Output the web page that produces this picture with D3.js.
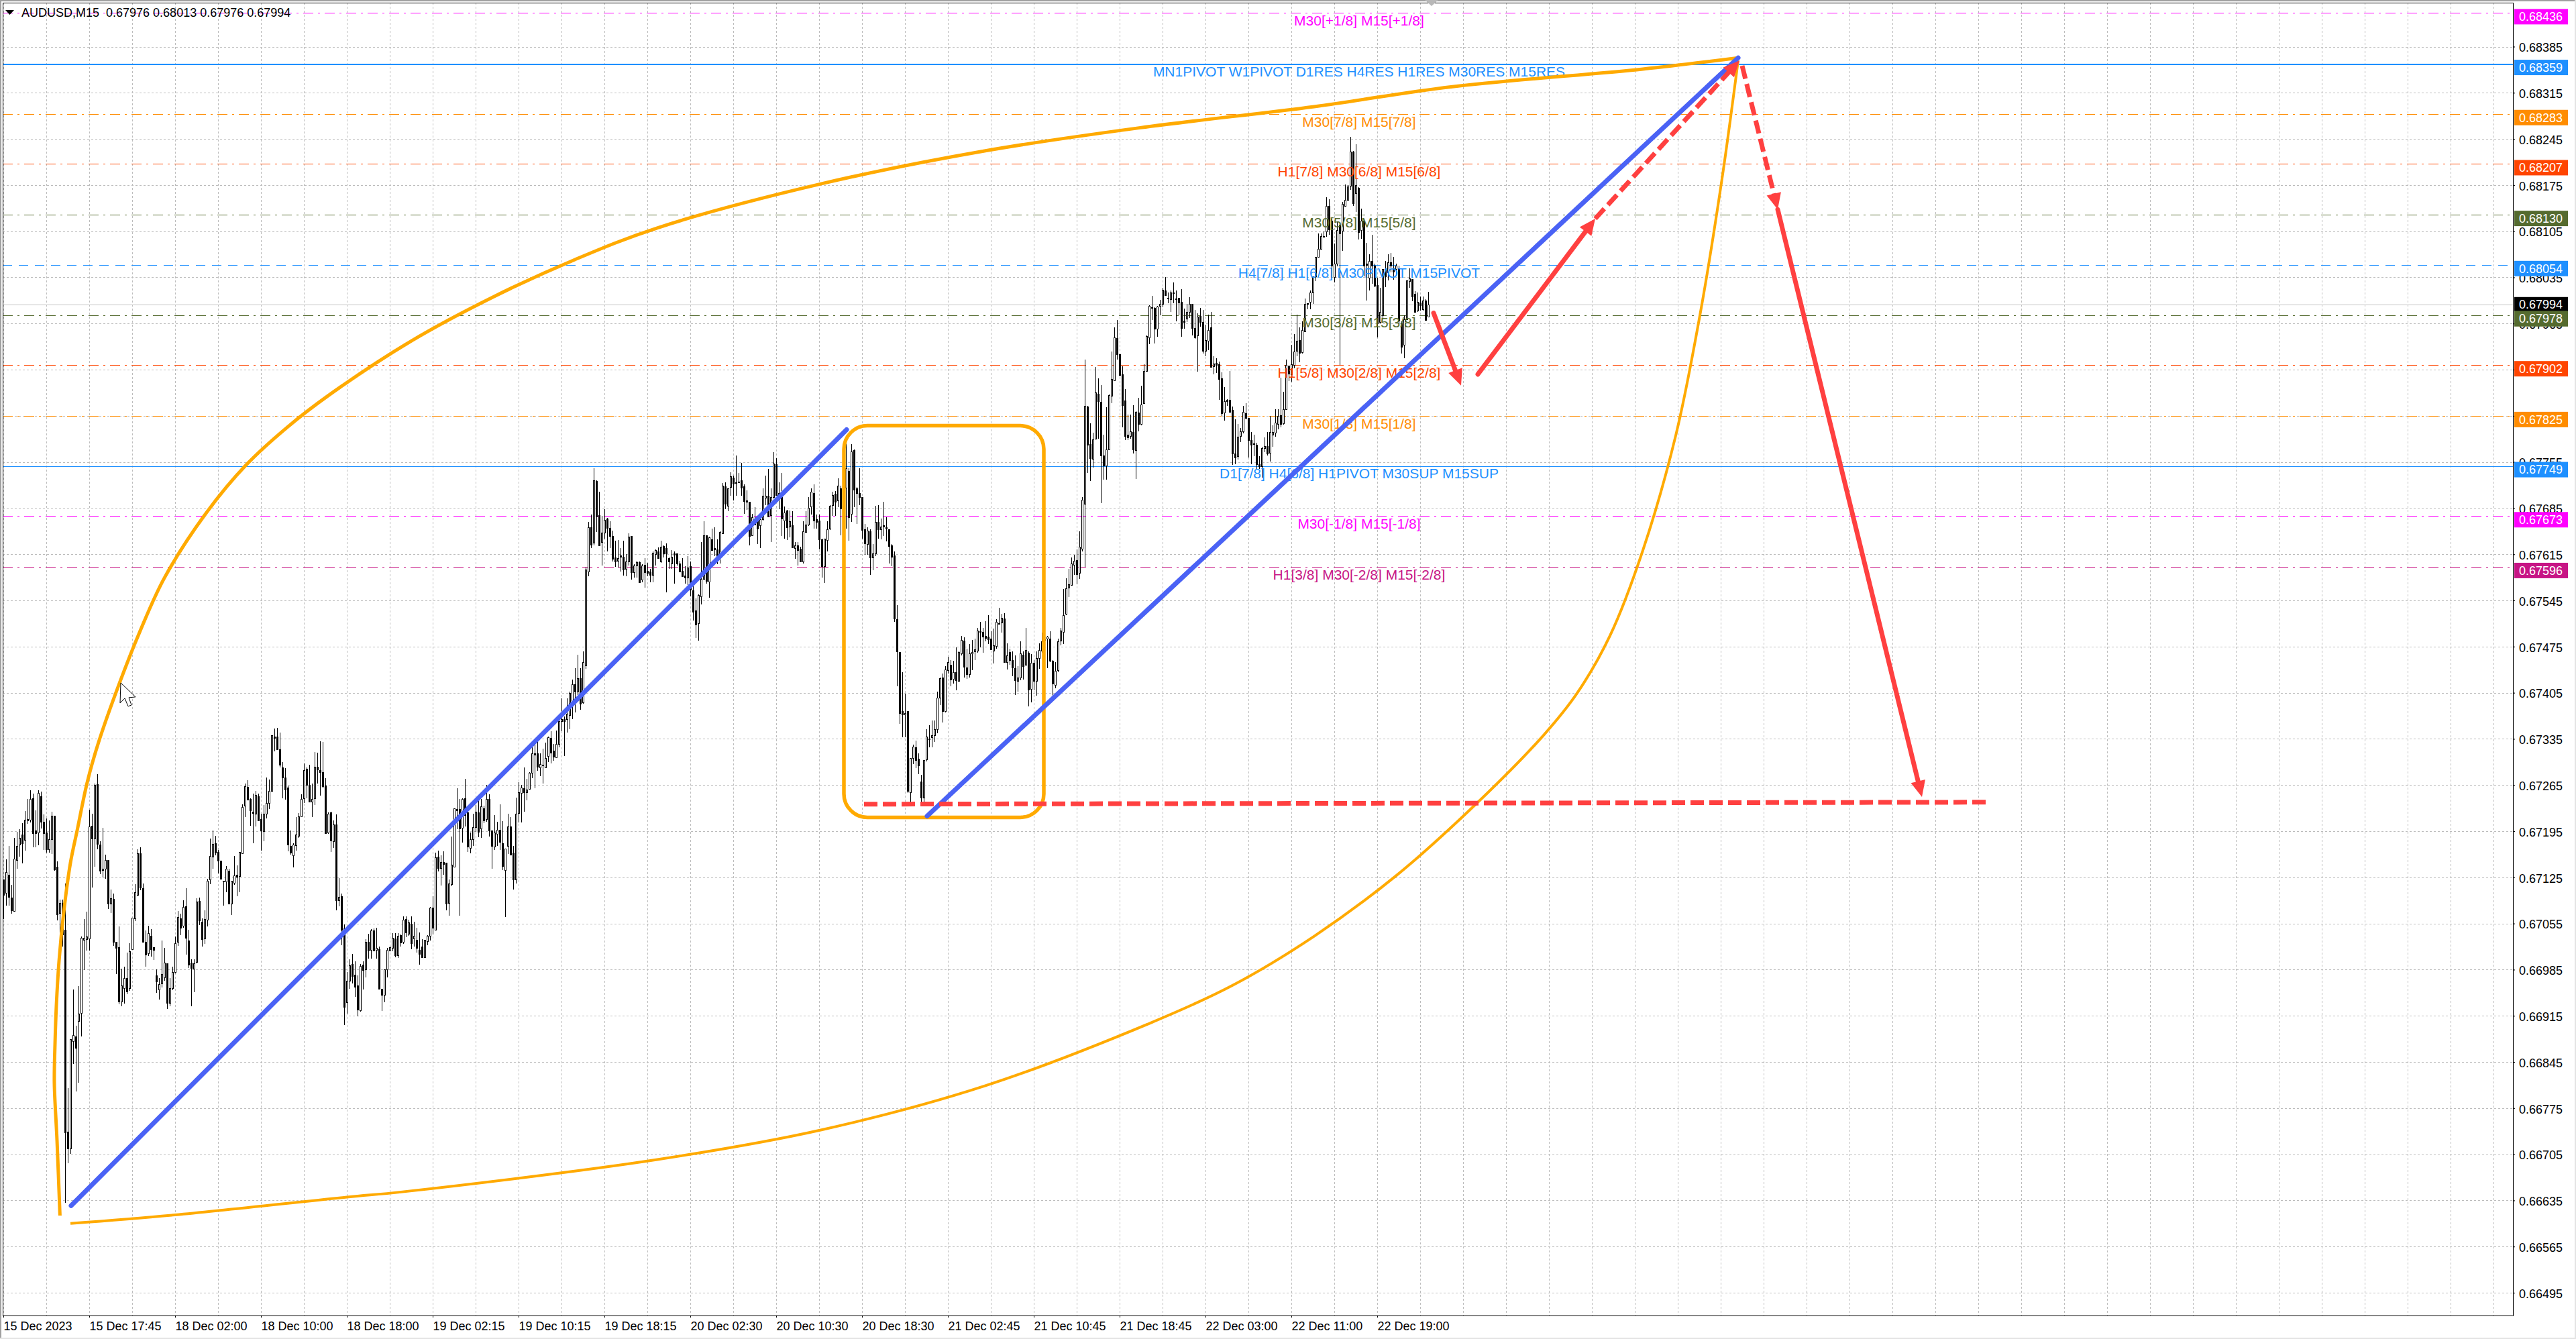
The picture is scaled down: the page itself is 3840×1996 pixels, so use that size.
<!DOCTYPE html>
<html>
<head>
<meta charset="utf-8">
<style>
	html, body {margin: 0; padding: 0; background: #fff;}
	svg {display: block;}
	text {font-family: "Liberation Sans", Arial, sans-serif; white-space: pre;}
</style>
<script src="https://cdn.jsdelivr.net/npm/d3@7"></script>
</head>
<body>
<svg id="chart" width="3840" height="1996"></svg>
<script>
// all prices below are in points, price * 100000
const opens = [
67122,67101,67129,67094,67074,67152,67175,67190,67181,67211,
67212,67245,67196,67193,67248,67209,67193,67168,67182,67218,
67141,67071,67086,67045,66739,66714,66877,66884,66907,66919,
67030,67031,67032,67203,67184,67266,67175,67136,67138,67151,
67085,67092,67027,67019,66937,66957,66972,66957,67016,67062,
67098,67161,67109,67027,67009,67036,67019,66976,66955,66964,
66974,66995,66935,66957,66981,67027,67063,67052,67081,67029,
66996,66987,66996,67089,67058,67032,67061,67121,67157,67177,
67163,67150,67120,67119,67135,67085,67117,67129,67126,67162,
67233,67262,67244,67225,67222,67248,67213,67196,67222,67238,
67257,67338,67338,67319,67292,67276,67261,67173,67159,67174,
67188,67218,67245,67290,67265,67240,67245,67293,67288,67285,
67264,67193,67224,67180,67205,67090,67096,67048,66935,66969,
66994,66977,66961,66924,66993,66985,67027,67014,67044,67015,
67016,66956,66946,66985,67014,67018,67032,67007,67037,67027,
67062,67040,67055,67032,67030,67015,67020,67004,67028,67036,
67079,67045,67156,67139,67148,67147,67086,67115,67141,67229,
67229,67200,67245,67224,67170,67183,67202,67224,67199,67230,
67213,67244,67196,67172,67191,67197,67177,67136,67172,67202,
67162,67121,67222,67253,67260,67254,67260,67284,67313,67313,
67292,67296,67292,67309,67336,67317,67307,67327,67362,67365,
67365,67371,67385,67418,67407,67427,67390,67446,67589,67656,
67632,67726,67674,67634,67648,67669,67655,67643,67610,67605,
67613,67611,67593,67604,67643,67588,67598,67603,67577,67599,
67590,67589,67583,67615,67619,67604,67627,67624,67609,67601,
67616,67616,67601,67590,67583,67580,67597,67560,67530,67510,
67552,67578,67644,67574,67638,67624,67622,67610,67647,67718,
67689,67717,67731,67724,67725,67727,67718,67697,67695,67644,
67668,67666,67659,67668,67701,67704,67675,67702,67752,67708,
67702,67666,67681,67657,67659,67625,67629,67623,67604,67649,
67660,67688,67708,67668,67666,67638,67597,67637,67654,67690,
67707,67697,67715,67684,67715,67741,67676,67773,67715,67708,
67702,67653,67631,67650,67610,67616,67664,67653,67659,67656,
67653,67628,67613,67517,67467,67377,67372,67377,67254,67306,
67322,67305,67270,67246,67303,67335,67338,67341,67350,67398,
67428,67377,67439,67447,67426,67436,67423,67465,67484,67443,
67433,67465,67468,67468,67498,67497,67491,67490,67487,67469,
67475,67510,67512,67518,67452,67467,67455,67442,67423,67428,
67463,67448,67466,67410,67450,67423,67458,67469,67486,67487,
67487,67453,67417,67439,67484,67498,67524,67564,67568,67599,
67606,67586,67624,67691,67839,67782,67760,67790,67858,67846,
67765,67750,67774,67856,67879,67943,67918,67888,67848,67796,
67794,67800,67773,67830,67813,67844,67893,67944,67990,67989,
67957,67992,67995,68015,68004,68002,68012,68003,68004,67998,
67969,67973,67983,67995,67958,67947,67976,67967,67924,67939,
67959,67900,67905,67903,67882,67830,67849,67849,67834,67768,
67763,67794,67801,67829,67822,67788,67783,67781,67752,67749,
67776,67779,67768,67796,67800,67813,67826,67814,67835,67900,
67888,67903,67924,67940,67921,67953,67996,67998,68012,68036,
68066,68079,68098,68104,68143,68121,68036,68056,68115,68105,
68144,68153,68174,68226,68163,68171,68107,68121,68056,68035,
68060,68053,68023,67968,67978,68048,68043,68058,68049,68048,
68049,67966,67932,67971,68029,68032,68010,67985,67997,67987,68000,67976];
const highs = [
67122,67152,67173,67114,67185,67194,67198,67207,67226,67244,
67257,67252,67227,67257,67255,67220,67214,67211,67225,67218,
67149,67091,67091,67116,66805,66880,66955,66900,66960,67035,
67062,67073,67228,67221,67267,67282,67180,67200,67159,67151,
67107,67100,67027,67051,66986,66990,67011,67025,67064,67115,
67168,67171,67116,67044,67052,67046,67019,66985,66972,67029,
67018,66995,66972,66989,67035,67074,67070,67090,67109,67045,
67001,67001,67093,67094,67063,67075,67123,67184,67196,67188,
67167,67150,67120,67142,67138,67120,67157,67143,67163,67236,
67267,67272,67245,67252,67256,67252,67221,67235,67276,67273,
67341,67351,67352,67345,67300,67291,67264,67196,67177,67216,
67223,67251,67298,67292,67296,67267,67315,67314,67331,67330,
67275,67224,67225,67211,67220,67124,67100,67054,66981,67001,
67009,66998,66976,66994,66998,67031,67039,67046,67048,67049,
67020,66956,66985,67018,67020,67040,67040,67040,67038,67066,
67066,67061,67066,67058,67049,67041,67031,67030,67037,67080,
67096,67162,67166,67158,67165,67147,67122,67187,67230,67260,
67244,67245,67274,67233,67193,67222,67235,67244,67244,67234,
67265,67251,67196,67219,67209,67236,67210,67169,67222,67216,
67173,67246,67269,67265,67292,67274,67285,67322,67329,67340,
67313,67320,67329,67338,67347,67327,67348,67371,67396,67369,
67397,67407,67425,67442,67463,67442,67468,67596,67664,67675,
67745,67727,67710,67673,67683,67670,67665,67651,67636,67637,
67624,67636,67615,67647,67643,67600,67605,67604,67600,67609,
67602,67593,67619,67622,67625,67636,67629,67632,67610,67621,
67619,67616,67605,67609,67597,67612,67604,67568,67548,67554,
67634,67665,67644,67642,67654,67656,67638,67650,67723,67724,
67715,67739,67734,67765,67738,67754,67721,67712,67695,67676,
67686,67668,67670,67715,67734,67744,67715,67770,67761,67724,
67738,67688,67682,67681,67680,67634,67634,67626,67665,67680,
67702,67715,67721,67675,67675,67639,67639,67665,67690,67710,
67711,67730,67719,67703,67783,67745,67782,67774,67717,67745,
67702,67661,67656,67653,67631,67689,67690,67669,67695,67671,
67653,67631,67619,67538,67467,67436,67404,67377,67306,67326,
67332,67313,67281,67303,67350,67356,67363,67363,67407,67428,
67434,67445,67460,67455,67453,67474,67468,67491,67489,67472,
67479,67485,67487,67503,67512,67503,67514,67523,67498,67502,
67517,67534,67525,67526,67480,67472,67468,67462,67445,67483,
67468,67503,67468,67464,67455,67468,67480,67496,67500,67491,
67498,67455,67451,67487,67503,67562,67579,67593,67610,67614,
67622,67650,67702,67910,67840,67814,67799,67899,67882,67872,
67796,67838,67857,67923,67959,67970,67918,67900,67866,67827,
67827,67841,67832,67852,67871,67903,67947,67993,68007,67990,
67992,68001,68019,68035,68012,68015,68027,68015,68004,68017,
67988,67995,68005,67995,67986,67981,67989,67986,67963,67979,
67983,67915,67912,67907,67891,67869,67850,67893,67839,67820,
67813,67807,67840,67844,67822,67800,67796,67784,67764,67778,
67792,67800,67825,67811,67835,67835,67883,67862,67910,67902,
67933,67949,67979,67959,67968,68003,67996,68015,68036,68066,
68102,68102,68105,68157,68154,68124,68086,68120,68117,68149,
68176,68175,68248,68227,68237,68172,68139,68124,68087,68070,
68100,68056,68034,68019,68048,68060,68070,68072,68066,68056,
68053,67968,67978,68030,68049,68032,68014,68012,68006,68006,68002,68013];
const lows = [
67062,67082,67082,67070,67074,67138,67156,67146,67166,67206,
67208,67171,67171,67174,67199,67167,67162,67162,67160,67135,
67060,67041,67020,66631,66691,66706,66842,66800,66813,66884,
66984,67014,67014,67110,67141,67168,67130,67125,67123,67077,
67071,67021,66978,66933,66929,66934,66948,66953,67015,67059,
67096,67106,67027,66990,67006,67005,67000,66950,66940,66958,
66968,66925,66929,66954,66979,67021,67037,67049,67008,66987,
66929,66951,66995,67053,67020,67024,67051,67115,67138,67158,
67131,67122,67082,67102,67084,67068,67114,67096,67102,67162,
67216,67243,67203,67177,67202,67211,67166,67180,67214,67229,
67255,67316,67319,67292,67245,67243,67165,67159,67140,67166,
67185,67218,67238,67245,67239,67216,67235,67267,67249,67260,
67192,67191,67163,67170,67075,67081,67022,66901,66918,66956,
66964,66944,66914,66921,66955,66973,67002,67002,67013,67002,
66956,66922,66936,66973,67013,67013,67004,67003,67020,67024,
67034,67036,67016,67020,67011,66993,67004,67004,67022,67029,
67038,67045,67134,67113,67129,67075,67067,67112,67140,67198,
67067,67178,67202,67164,67161,67173,67194,67186,67185,67207,
67209,67187,67138,67167,67173,67167,67136,67065,67160,67159,
67107,67116,67208,67208,67225,67242,67258,67275,67260,67287,
67278,67267,67291,67300,67298,67302,67307,67322,67347,67309,
67345,67350,67365,67375,67402,67379,67388,67441,67582,67624,
67629,67649,67627,67598,67639,67619,67624,67604,67596,67595,
67589,67583,67582,67598,67577,67580,67580,67572,67573,67564,
67582,67573,67573,67598,67609,67602,67610,67557,67593,67593,
67571,67598,67588,67582,67570,67568,67551,67515,67488,67484,
67539,67578,67571,67549,67621,67612,67600,67601,67646,67683,
67680,67704,67697,67704,67724,67704,67676,67682,67629,67643,
67660,67631,67624,67666,67690,67672,67634,67700,67705,67683,
67643,67639,67637,67641,67624,67608,67598,67604,67601,67648,
67658,67675,67654,67654,67622,67580,67572,67619,67652,67673,
67673,67686,67644,67664,67654,67636,67664,67686,67661,67690,
67639,67614,67614,67584,67591,67612,67639,67638,67643,67635,
67601,67597,67512,67415,67358,67337,67337,67253,67238,67297,
67291,67282,67240,67238,67301,67322,67322,67330,67344,67386,
67360,67375,67434,67415,67419,67409,67422,67462,67428,67426,
67428,67439,67455,67466,67474,67466,67483,67479,67470,67449,
67472,67508,67496,67451,67440,67447,67430,67402,67407,67424,
67425,67447,67384,67390,67409,67401,67441,67466,67483,67442,
67451,67401,67412,67436,67477,67479,67523,67550,67567,67584,
67569,67578,67619,67596,67738,67726,67747,67789,67790,67693,
67728,67728,67773,67844,67878,67910,67885,67808,67788,67788,
67790,67768,67729,67801,67811,67844,67892,67934,67970,67935,
67945,67978,67990,68007,67996,67983,67996,67968,67978,67945,
67957,67967,67973,67947,67942,67892,67960,67920,67915,67925,
67899,67888,67890,67849,67825,67818,67840,67830,67751,67752,
67759,67785,67798,67820,67762,67752,67764,67744,67744,67731,
67770,67765,67756,67778,67793,67805,67808,67812,67835,67878,
67877,67897,67915,67906,67920,67952,67987,67987,67995,68029,
68065,68078,68096,68097,68100,68034,68027,68052,67902,68075,
68143,68151,68168,68143,68134,68092,68093,68036,68000,68015,
68025,68020,67944,67965,67971,68020,68030,68043,68031,68039,
67965,67919,67912,67970,68019,67999,67982,67983,67985,67985,67971,67976];
const closes = [
67099,67133,67095,67075,67153,67173,67185,67177,67212,67213,
67244,67192,67192,67253,67209,67192,67168,67183,67218,67137,
67069,67086,67038,66738,66714,66880,66886,66867,66918,67033,
67033,67035,67202,67184,67265,67175,67135,67138,67151,67085,
67093,67027,67018,66937,66961,66972,66952,67013,67064,67102,
67161,67109,67028,67008,67040,67016,67015,66967,66963,66978,
66996,66935,66957,66981,67025,67065,67049,67080,67033,66992,
66988,66995,67088,67059,67032,67062,67120,67157,67176,67163,
67150,67123,67120,67138,67085,67120,67128,67126,67163,67232,
67263,67243,67227,67223,67250,67211,67196,67222,67238,67256,
67341,67336,67319,67296,67277,67258,67175,67163,67175,67190,
67217,67244,67288,67266,67240,67244,67293,67289,67285,67264,
67192,67221,67181,67205,67090,67095,67045,66929,66968,66992,
66976,66959,66924,66991,66985,67027,67014,67044,67013,67018,
66956,66947,66985,67015,67019,67033,67007,67036,67026,67061,
67042,67057,67026,67036,67018,67009,67004,67030,67036,67079,
67048,67155,67139,67148,67145,67085,67116,67144,67230,67227,
67199,67244,67220,67172,67183,67201,67225,67194,67233,67212,
67244,67196,67173,67193,67197,67179,67142,67169,67202,67159,
67121,67221,67254,67261,67254,67258,67284,67313,67311,67293,
67297,67295,67306,67337,67314,67308,67327,67362,67365,67362,
67373,67405,67418,67407,67427,67388,67451,67592,67656,67630,
67727,67672,67628,67648,67667,67655,67643,67608,67604,67609,
67611,67592,67604,67642,67588,67598,67603,67572,67598,67588,
67587,67584,67617,67621,67609,67626,67616,67616,67604,67611,
67614,67601,67589,67582,67580,67595,67561,67527,67509,67553,
67578,67644,67575,67641,67622,67622,67612,67649,67719,67692,
67715,67733,67722,67724,67725,67716,67696,67695,67643,67671,
67660,67654,67668,67704,67704,67672,67702,67753,67705,67699,
67669,67678,67656,67665,67625,67629,67622,67604,67650,67660,
67685,67710,67666,67664,67638,67597,67639,67653,67689,67705,
67695,67719,67684,67700,67745,67671,67771,67713,67708,67702,
67652,67632,67651,67610,67616,67664,67653,67657,67657,67654,
67628,67611,67517,67468,67374,67372,67374,67256,67306,67323,
67303,67295,67246,67303,67338,67335,67341,67350,67398,67427,
67377,67440,67451,67425,67436,67424,67467,67485,67444,67433,
67465,67467,67471,67499,67498,67490,67488,67486,67471,67477,
67512,67510,67519,67452,67462,67455,67444,67424,67428,67465,
67446,67470,67410,67450,67423,67458,67470,67483,67486,67490,
67453,67418,67438,67483,67499,67523,67563,67569,67601,67605,
67585,67626,67698,67840,67781,67761,67789,67860,67847,67765,
67750,67774,67856,67881,67944,67919,67886,67841,67794,67792,
67801,67774,67831,67813,67842,67893,67946,67992,67989,67957,
67991,67995,68016,68008,68004,68012,68011,68003,67997,67958,
67967,67983,67995,67958,67944,67975,67967,67923,67940,67955,
67899,67904,67902,67881,67829,67847,67847,67831,67768,67762,
67793,67801,67831,67822,67788,67781,67783,67751,67749,67776,
67779,67768,67800,67800,67815,67825,67813,67835,67902,67889,
67903,67923,67939,67921,67955,67995,67996,68012,68036,68066,
68078,68098,68098,68143,68107,68053,68056,68107,68102,68146,
68153,68173,68226,68148,68175,68104,68121,68053,68054,68060,
68053,68022,67965,67983,68048,68037,68058,68053,68044,68053,
67970,67929,67971,68030,68033,68006,67983,67998,67993,68000,67971,67994];

const priceTicks = [68385,68315,68245,68175,68105,68035,67965,67895,67825,67755,67685,67615,67545,67475,67405,67335,67265,67195,67125,67055,66985,66915,66845,66775,66705,66635,66565,66495];
const timeLabels = ["15 Dec 2023","15 Dec 17:45","18 Dec 02:00","18 Dec 10:00","18 Dec 18:00","19 Dec 02:15","19 Dec 10:15","19 Dec 18:15","20 Dec 02:30","20 Dec 10:30","20 Dec 18:30","21 Dec 02:45","21 Dec 10:45","21 Dec 18:45","22 Dec 03:00","22 Dec 11:00","22 Dec 19:00"];

const levelPrices = [68436,68359,68283,68207,68130,68054,67978,67902,67825,67749,67673,67596];
const levelNames = ["M30[+1/8] M15[+1/8]","MN1PIVOT W1PIVOT D1RES H4RES H1RES M30RES M15RES","M30[7/8] M15[7/8]","H1[7/8] M30[6/8] M15[6/8]","M30[5/8] M15[5/8]","H4[7/8] H1[6/8] M30PIVOT M15PIVOT","M30[3/8] M15[3/8]","H1[5/8] M30[2/8] M15[2/8]","M30[1/8] M15[1/8]","D1[7/8] H4[6/8] H1PIVOT M30SUP M15SUP","M30[-1/8] M15[-1/8]","H1[3/8] M30[-2/8] M15[-2/8]"];

const bidPrice = 67994;
const header = "AUDUSD,M15  0.67976 0.68013 0.67976 0.67994";

// hand drawn objects on the chart, bar number and price for each point
const arcBars = [21.1,20,19,19.25,19.75,20.75,22.5,25,27.5,31.25,35.5,43.5,50.8,60,75.3,90.6,105.9,121.2,151.8,182.4,213,243.7,304.9,366,423.75,488.5,539.5,611,646.5];
const arcPrices = [66612,66726,66813,66872,66930,66998,67072,67147,67196,67269,67330,67422,67497,67579,67676,67751,67808,67856,67938,68005,68062,68110,68177,68227,68262,68294,68324,68351,68368];
const lowArcBars = [25,64,128,148.75,243.7,304.9,366,427.4,458,488.6,519.2,549.8,574.3,586.6,598.8,611,623.3,632.5,640.4,646.5];
const lowArcPrices = [66600,66613,66640,66648,66697,66742,66809,66904,66961,67036,67128,67240,67342,67405,67492,67621,67796,67983,68182,68364];
const trendBars = [[25.25,314.25],[344.25,646.5]];
const trendPrices = [[66627,67804],[67218,68368]];
const boxBars = [313.25,387.75];
const boxPrices = [67810,67216];
const targetBars = [320.75,739];
const targetPrices = [67236,67239];
const arrowBars = [[533,543.25],[549.5,593.25],[593.25,647],[648,661.25],[661.25,715]];
const arrowPrices = [[67981,67871],[67888,68124],[68124,68364],[68356,68138],[68138,67247]];
const arrowDashed = [false,false,true,true,false];

const levelColor = ["#ff00ff","#1e90ff","#ff8c00","#ff4500","#556b2f","#1e90ff","#556b2f","#ff4500","#ff8c00","#1e90ff","#ff00ff","#c71585"];
const levelDash = ["15 7 3 7",null,"15 7 3 7","15 7 3 7","15 7 3 7","14 10","15 7 3 7","15 7 3 7","15 7 3 7",null,"15 7 3 7","15 7 3 7"];
const levelWidth = [1,2,1,1,1,1,1,1,1,1,1,1];

const orange = "#ffaa00", blue = "#4a62f5", red = "#ff4040";
const font = 18;

const svg = d3.select("#chart");
const box = {left: 4, top: 4, right: 3746, bottom: 1961};

// one bar every 4px, first bar sits on the chart's left edge
const x = d3.scaleLinear().domain([0, 16]).range([5, 69]);
const y = d3.scaleLinear().domain([68385, 66495]).range([69.5, 1927]);
const barRange = d3.range(opens.length);

// window frame
svg.append("rect").attr("width", 3840).attr("height", 1996).attr("fill", "#fff");
svg.append("rect").attr("width", 3840).attr("height", 2).attr("fill", "#a0a0a0");
svg.append("rect").attr("width", 2).attr("height", 1996).attr("fill", "#a0a0a0");
svg.append("rect").attr("x", 3838).attr("width", 2).attr("height", 1996).attr("fill", "#e4e4e4");
svg.append("rect").attr("y", 1994).attr("width", 3840).attr("height", 2).attr("fill", "#e4e4e4");

// grid
const gridG = svg.append("g").attr("stroke", "#bdbdbd").attr("stroke-dasharray", "3 3").attr("shape-rendering", "crispEdges");
gridG.selectAll("line.h").data(priceTicks).enter().append("line")
	.attr("class", "h")
	.attr("x1", box.left).attr("x2", box.right)
	.attr("y1", d => Math.round(y(d)) + 0.5).attr("y2", d => Math.round(y(d)) + 0.5);
const gridBars = d3.range(0, 58 * 16 + 1, 16);
gridG.selectAll("line.v").data(gridBars).enter().append("line")
	.attr("class", "v")
	.attr("y1", box.top).attr("y2", box.bottom)
	.attr("x1", d => x(d) + 0.5).attr("x2", d => x(d) + 0.5);

// level lines
svg.append("g").attr("shape-rendering", "crispEdges")
	.selectAll("line").data(levelPrices).enter().append("line")
	.attr("x1", box.left).attr("x2", (d, i) => levelDash[i] ? box.right - 3 : box.right)
	.attr("y1", d => Math.round(y(d)) + 0.5).attr("y2", d => Math.round(y(d)) + 0.5)
	.attr("stroke", (d, i) => levelColor[i])
	.attr("stroke-width", (d, i) => levelWidth[i])
	.attr("stroke-dasharray", (d, i) => levelDash[i]);

// bid line
svg.append("line")
	.attr("x1", box.left).attr("x2", box.right)
	.attr("y1", Math.round(y(bidPrice)) + 0.5).attr("y2", Math.round(y(bidPrice)) + 0.5)
	.attr("stroke", "#c0c0c0").attr("shape-rendering", "crispEdges");

// candles
const candles = svg.append("g").attr("shape-rendering", "crispEdges");
candles.selectAll("rect.wick").data(barRange).enter().append("rect")
	.attr("class", "wick")
	.attr("x", i => x(i))
	.attr("width", 1)
	.attr("y", i => y(highs[i]))
	.attr("height", i => Math.max(1, y(lows[i]) - y(highs[i])))
	.attr("fill", "#000");
candles.selectAll("rect.body").data(barRange).enter().append("rect")
	.attr("class", "body")
	.attr("x", i => x(i) - 0.5)
	.attr("width", 2)
	.attr("y", i => Math.round(y(Math.max(opens[i], closes[i]))) + 0.5)
	.attr("height", i => Math.max(1, Math.round(Math.abs(y(opens[i]) - y(closes[i])))))
	.attr("fill", i => closes[i] >= opens[i] ? "#fff" : "#000")
	.attr("stroke", "#000");

// level names
svg.append("g").attr("font-size", 21).attr("text-anchor", "middle")
	.selectAll("text").data(levelNames).enter().append("text")
	.attr("x", x(505.25))
	.attr("y", (d, i) => y(levelPrices[i]) + 11.5)
	.attr("dy", "0.35em")
	.attr("fill", (d, i) => levelColor[i])
	.text(d => d);

// orange arcs and box
const line = d3.line().x(d => x(d[0])).y(d => y(d[1])).curve(d3.curveCatmullRom);
svg.append("path")
	.attr("d", line(d3.zip(arcBars, arcPrices)))
	.attr("fill", "none").attr("stroke", orange).attr("stroke-width", 5);
svg.append("path")
	.attr("d", line(d3.zip(lowArcBars, lowArcPrices)))
	.attr("fill", "none").attr("stroke", orange).attr("stroke-width", 4);
svg.append("rect")
	.attr("x", x(boxBars[0])).attr("y", y(boxPrices[0]))
	.attr("width", x(boxBars[1]) - x(boxBars[0]))
	.attr("height", y(boxPrices[1]) - y(boxPrices[0]))
	.attr("rx", 35).attr("ry", 35)
	.attr("fill", "none").attr("stroke", orange).attr("stroke-width", 5.5);

// blue trend lines
svg.append("g").selectAll("line").data(trendBars).enter().append("line")
	.attr("x1", d => x(d[0])).attr("x2", d => x(d[1]))
	.attr("y1", (d, i) => y(trendPrices[i][0])).attr("y2", (d, i) => y(trendPrices[i][1]))
	.attr("stroke", blue).attr("stroke-width", 7).attr("stroke-linecap", "round");

// red target line
svg.append("line")
	.attr("x1", x(targetBars[0])).attr("x2", x(targetBars[1]))
	.attr("y1", y(targetPrices[0])).attr("y2", y(targetPrices[1]))
	.attr("stroke", red).attr("stroke-width", 7).attr("stroke-dasharray", "20 8");

// red arrows, the shaft stops short of the tip so the head stays sharp
const arrowG = svg.append("g");
arrowBars.forEach((b, i) => {
	let x0 = x(b[0]), y0 = y(arrowPrices[i][0]), x1 = x(b[1]), y1 = y(arrowPrices[i][1]);
	let len = Math.hypot(x1 - x0, y1 - y0);
	let ux = (x1 - x0) / len, uy = (y1 - y0) / len;
	arrowG.append("line")
		.attr("x1", x0).attr("y1", y0)
		.attr("x2", x1 - ux * 14).attr("y2", y1 - uy * 14)
		.attr("stroke", red).attr("stroke-width", 7)
		.attr("stroke-linecap", arrowDashed[i] ? "butt" : "round")
		.attr("stroke-dasharray", arrowDashed[i] ? "20 8" : null);
	let bx = x1 - ux * 24, by = y1 - uy * 24;
	arrowG.append("path")
		.attr("d", "M" + x1 + "," + y1 + "L" + (bx - uy * 11) + "," + (by + ux * 11) + "L" + (bx + uy * 11) + "," + (by - ux * 11) + "Z")
		.attr("fill", red);
});

// leftover mouse pointer in the screenshot
svg.append("path")
	.attr("transform", "translate(" + x(43.75) + "," + y(67420) + ")")
	.attr("d", "M0,0L22,21L12,22L16,33L11,35L6,23L-1,30Z")
	.attr("fill", "#fff").attr("stroke", "#000").attr("stroke-width", 1);

// chart border
svg.append("rect")
	.attr("x", box.left + 0.5).attr("y", box.top + 0.5)
	.attr("width", box.right - box.left).attr("height", box.bottom - box.top)
	.attr("fill", "none").attr("stroke", "#000").attr("shape-rendering", "crispEdges");

// price axis
const yAxis = svg.append("g")
	.attr("transform", "translate(" + box.right + ",0)")
	.call(d3.axisRight(y).tickValues(priceTicks).tickSize(3).tickPadding(6).tickFormat(d => (d / 1e5).toFixed(5)));
yAxis.select(".domain").remove();
yAxis.selectAll("text").attr("font-family", "Liberation Sans").attr("font-size", font).attr("fill", "#000").attr("dy", "0.4em");

// time axis
const timeBars = timeLabels.map((d, i) => i * 32);
const xAxis = svg.append("g")
	.attr("transform", "translate(0," + box.bottom + ")")
	.call(d3.axisBottom(x).tickValues(timeBars).tickSize(3).tickPadding(6).tickFormat((d, i) => timeLabels[i]));
xAxis.select(".domain").remove();
xAxis.selectAll("text").attr("font-family", "Liberation Sans").attr("font-size", font).attr("fill", "#000").attr("text-anchor", "start");

// price tags on the right
const tagPrices = levelPrices.slice();
const tagG = svg.append("g");
tagPrices.forEach((p, i) => {
	tagG.append("rect")
		.attr("x", box.right + 2).attr("y", y(p) - 6)
		.attr("width", 80).attr("height", 23)
		.attr("fill", levelColor[i]);
});
tagG.append("rect")
	.attr("x", box.right + 2).attr("y", y(bidPrice) - 11)
	.attr("width", 80).attr("height", 21)
	.attr("fill", "#000");
// olive tag for 0.67978 sits over the black one
tagG.append("rect")
	.attr("x", box.right + 2).attr("y", y(67978) - 6)
	.attr("width", 80).attr("height", 23)
	.attr("fill", levelColor[6]);
tagPrices.forEach(p => {
	tagG.append("text")
		.attr("x", box.right + 9).attr("y", y(p) + 5.5).attr("dy", "0.35em")
		.attr("font-size", font).attr("fill", "#fff")
		.text((p / 1e5).toFixed(5));
});
tagG.append("text")
	.attr("x", box.right + 9).attr("y", y(bidPrice) - 0.5).attr("dy", "0.35em")
	.attr("font-size", font).attr("fill", "#fff")
	.text((bidPrice / 1e5).toFixed(5));

// header
svg.append("path").attr("d", "M8,15L21,15L14.5,22Z").attr("fill", "#000");
svg.append("text")
	.attr("x", 32).attr("y", 19).attr("dy", "0.35em")
	.attr("font-size", font).attr("fill", "#000")
	.text(header);

// chart shift marker
svg.append("path").attr("d", "M2124,0L2144,0L2134,9Z").attr("fill", "#b8b8b8");
</script>
</body>
</html>
